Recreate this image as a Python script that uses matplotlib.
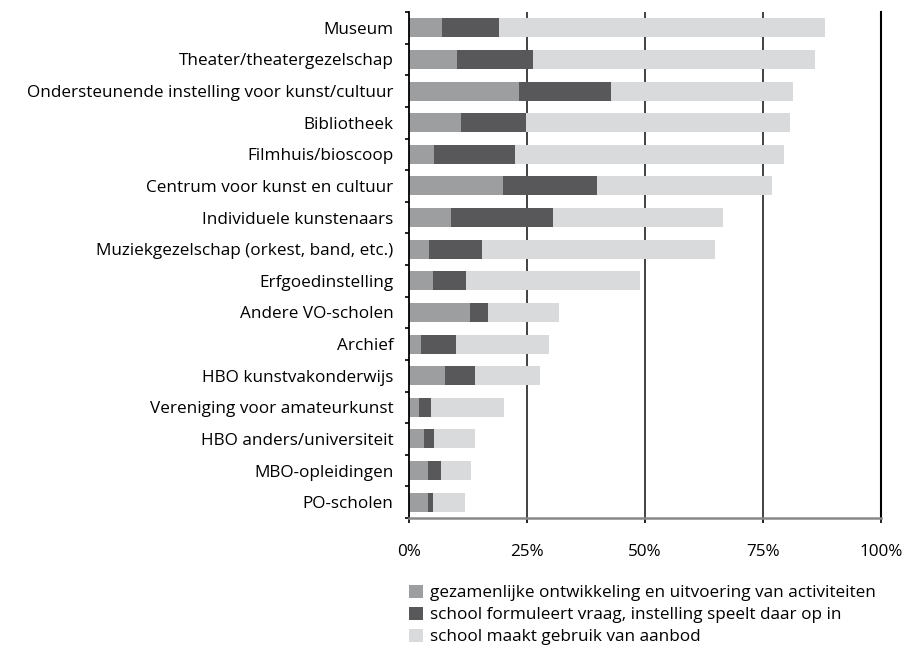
import matplotlib.pyplot as plt
from matplotlib.patches import Patch
import numpy as np

plt.rcParams['font.family'] = ['Open Sans', 'DejaVu Sans']
plt.rcParams['font.size'] = 12.3

categories = ["Museum", "Theater/theatergezelschap",
              "Ondersteunende instelling voor kunst/cultuur", "Bibliotheek",
              "Filmhuis/bioscoop", "Centrum voor kunst en cultuur",
              "Individuele kunstenaars", "Muziekgezelschap (orkest, band, etc.)",
              "Erfgoedinstelling", "Andere VO-scholen", "Archief",
              "HBO kunstvakonderwijs", "Vereniging voor amateurkunst",
              "HBO anders/universiteit", "MBO-opleidingen", "PO-scholen"]

gezamenlijk = [7.0, 10.2, 23.3, 11.0, 5.3, 19.9, 8.9, 4.2, 5.1, 12.9, 2.5, 7.6, 2.1, 3.2, 4.0, 4.0]
vraag       = [12.1, 16.1, 19.5, 13.8, 17.2, 19.9, 21.6, 11.3, 7.0, 3.8, 7.5, 6.4, 2.6, 2.1, 2.8, 1.1]
aanbod      = [69.0, 59.7, 38.6, 55.9, 56.9, 37.1, 36.0, 49.3, 36.8, 15.1, 19.6, 13.8, 15.4, 8.7, 6.3, 6.8]

labels = ["gezamenlijke ontwikkeling en uitvoering van activiteiten",
          "school formuleert vraag, instelling speelt daar op in",
          "school maakt gebruik van aanbod"]
colors = ["#9d9ea0", "#58585a", "#d9dadc"]

fig = plt.figure(figsize=(9.16, 6.45), dpi=100)
ax = fig.add_axes([409/916, 1-518/645, 472/916, 506/645])

y = np.arange(len(categories))
left = np.zeros(len(categories))
for vals, c in zip([gezamenlijk, vraag, aanbod], colors):
    ax.barh(y, vals, left=left, height=0.6, color=c, zorder=2)
    left = left + np.array(vals)

ax.set_xlim(0, 100)
ax.set_ylim(len(categories) - 0.5, -0.5)

for xv in [25, 50, 75]:
    ax.axvline(xv, color="#333333", linewidth=1.3, zorder=1)

ax.set_yticks(y)
ax.set_yticklabels(categories)
ax.set_yticks(np.arange(-0.5, len(categories)), minor=True)
ax.tick_params(axis="y", which="major", length=0, pad=11)
ax.tick_params(axis="y", which="minor", length=3, width=1.2, color="black", direction="out")

ax.set_xticks([0, 25, 50, 75, 100])
ax.set_xticklabels(["0%", "25%", "50%", "75%", "100%"])
ax.tick_params(axis="x", length=3.6, width=1.2, color="black", pad=15)

ax.spines["top"].set_visible(False)
ax.spines["left"].set_color("black")
ax.spines["left"].set_linewidth(1.3)
ax.spines["right"].set_color("black")
ax.spines["right"].set_linewidth(1.5)
ax.spines["bottom"].set_color("#888888")
ax.spines["bottom"].set_linewidth(1.8)

handles = [Patch(facecolor=c, edgecolor="none") for c in colors]
fig.legend(handles, labels, loc="upper left", bbox_to_anchor=(409/916, 1-585/645),
           frameon=False, handlelength=0.8, handleheight=0.8, handletextpad=0.4,
           labelspacing=0.32, borderaxespad=0, borderpad=0, fontsize=12.3)

fig.savefig("out.png", dpi=100)
